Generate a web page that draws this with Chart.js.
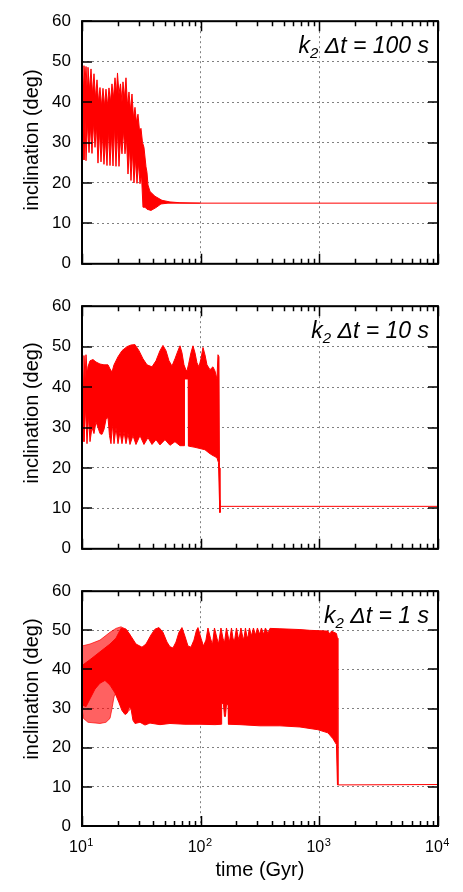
<!DOCTYPE html>
<html>
<head>
<meta charset="utf-8">
<script src="https://cdn.jsdelivr.net/npm/chart.js@4/dist/chart.umd.min.js"></script>
<style>
  body { margin: 0; background: #fff; width: 463px; height: 892px; position: relative; overflow: hidden; }
  canvas { position: absolute; left: 0; }
</style>
</head>
<body>
<canvas id="panel1" width="463" height="285" style="top:0px"></canvas>
<canvas id="panel2" width="463" height="285" style="top:285px"></canvas>
<canvas id="panel3" width="463" height="322" style="top:570px"></canvas>
<script>
// time in Gyr (log axis), inclination in deg
const xTicks = [10, 20, 30, 40, 50, 60, 70, 80, 90,
                100, 200, 300, 400, 500, 600, 700, 800, 900,
                1000, 2000, 3000, 4000, 5000, 6000, 7000, 8000, 9000, 10000];
const yTicks = [0, 10, 20, 30, 40, 50, 60];
const panelLabels = ['100 s', '10 s', '1 s'];

// k2 dt = 100 s : upper / lower extremes of the oscillation, then the settled value
const p1Upper = [[10.0,49.5],[10.2,44],[10.39,49],[10.6,45],[10.81,48.8],[11.02,44],[11.23,48.6],
  [11.57,43],[11.91,48.2],[12.26,42],[12.62,47],[12.99,41],[13.38,45.5],[13.77,40],[14.18,43.6],
  [14.6,39],[15.03,43.4],[15.47,39],[15.93,43.2],[16.4,39],[16.88,43.5],[17.38,40],[17.89,44.5],
  [18.42,41],[18.97,46],[19.53,42],[19.91,47.2],[20.5,42],[21.1,44.5],[21.73,40],[22.15,45],
  [22.8,41],[23.48,46],[24.17,39],[24.89,42.5],[25.62,38],[26.38,42],[27.16,36],[27.96,38.7],
  [28.78,35],[29.63,37],[30.51,33],[31.41,33.5],[32.34,30],[33.29,28.8],[34.61,24],[35.29,22.6],
  [35.97,19.5],[37.4,17.9],[41.21,16.7],[47.21,15.7],[55.13,15.3],[66.94,15.1],[98.65,15.0]];
const p1Lower = [[10.0,30],[10.2,38],[10.39,25.7],[10.6,36],[10.81,25.5],[11.13,35],[11.46,27.5],
  [11.79,34],[12.14,27.3],[12.5,35],[12.87,28.8],[13.25,34],[13.64,24.9],[14.04,33],[14.46,25.2],
  [14.88,32],[15.32,24.6],[15.78,31],[16.24,24.3],[16.72,33],[17.22,24.3],[17.72,32],[18.25,24.2],
  [18.79,34],[19.34,24.1],[19.91,33],[20.5,24.1],[21.1,31],[21.73,27.2],[22.37,33],[23.03,27.2],
  [23.71,31],[24.41,22.2],[25.13,29],[25.87,20.6],[26.63,28],[27.42,20],[28.23,26],[29.07,19.9],
  [29.92,25],[30.81,19.8],[31.72,22],[32.65,14],[33.94,14],[35.29,13.5],[38.13,13.2],[42.02,13.9],
  [46.3,14.8],[53.04,15.0],[66.94,15.0],[98.65,15.0]];
const p1Tail = [[98.65,15.0],[10000,15.0]];

// k2 dt = 10 s
const p2Upper = [[10.0,48],[10.2,41],[10.39,47.8],[10.6,42],[10.81,48],[11.02,44],[11.23,45],
  [11.68,46.5],[12.38,46.8],[13.12,46.2],[14.18,45.7],[15.32,45.5],[16.56,45.5],[17.22,44.5],
  [17.89,43.7],[18.61,45.5],[20.11,47.5],[21.73,49],[23.94,50],[25.87,50.4],[27.96,50.5],
  [30.22,49],[32.65,47],[35.29,45.5],[38.89,45],[42.02,46.5],[45.4,49],[48.13,50.3],[51.03,49],
  [54.07,46.5],[57.32,45.2],[60.74,47],[64.4,49],[66.94,50.2],[69.57,48.5],[72.32,45.5],
  [75.18,44.2],[76.65,44],[78.91,45.5],[82.84,48.5],[86.12,50.2],[89.53,48.5],[93.07,46],
  [96.75,45],[100.6,47],[104.6,49.8],[108.7,48],[113.0,45.5],[119.8,44.3],[126.9,45],
  [131.9,44],[137.2,42],[139.9,48],[142.6,47.5],[144.0,20],[145.4,9]];
const p2Lower = [[10.0,27],[10.2,36],[10.39,26.5],[10.7,35],[11.02,26],[11.34,33],[11.68,26.5],
  [12.14,30],[12.62,28.5],[13.12,31.4],[13.64,30],[14.18,28.5],[14.74,28.3],[15.32,29.5],
  [15.93,32],[16.56,32.5],[17.05,28],[17.55,26],[18.07,31],[18.61,26],[19.34,30],[20.11,26],
  [20.9,29],[21.73,26],[22.59,29],[23.48,26],[24.41,28.5],[25.37,25.8],[26.89,28],[28.5,25.8],
  [30.81,28],[33.29,25.8],[35.97,27.5],[38.89,25.8],[42.02,27],[45.4,25.7],[50.05,27],
  [55.13,25.6],[60.74,26.5],[66.94,25.5],[72.8,25.5],[73.03,42],[78.6,42],[78.91,25.4],
  [89.53,25.1],[98.65,24.8],[108.7,24.5],[117.5,23.7],[124.5,23.2],[131.9,22.8],[137.2,22.5],
  [141.3,21.3],[144.0,12],[145.4,9]];
const p2Tail = [[145.4,10.5],[10000,10.5]];

// k2 dt = 1 s : faint outer band at early times, dense core, settled value
const p3LightUpper = [[10.0,46],[11.68,46.5],[14.18,47.5],[17.22,49.5],[19.34,50.5],[21.31,50.9],
  [23.48,50.3],[25.87,48.5]];
const p3LightLower = [[10.0,30],[10.29,27.5],[11.23,26.5],[14.18,26.2],[15.93,26.5],[17.22,27.5],
  [17.89,30],[18.61,33],[19.34,34],[21.31,30.7],[23.48,28.7],[25.87,30]];
const p3Upper = [[10.0,41],[11.68,42.5],[14.18,44.5],[17.22,46.5],[19.34,48],[21.31,50.5],
  [23.48,50.3],[25.87,48.5],[28.5,46.5],[32.03,45.7],[34.61,46.5],[38.13,48.8],[41.21,50.3],
  [44.53,50.7],[48.13,49.5],[52.02,47],[55.13,45.8],[58.42,45.5],[61.93,47],[65.65,49.5],
  [69.57,50.7],[73.74,48.5],[78.16,46],[82.84,45.7],[87.81,47.5],[92.18,50],[94.9,50.7],
  [100.6,48],[105.6,46],[110.8,47.5],[115.2,50.6],[120.9,48],[125.7,46.3],[130.7,50.6],
  [137.2,48],[141.3,46.5],[148.3,50.6],[154.1,48],[158.7,46.8],[165.0,50.6],[171.5,48],
  [174.8,47],[181.8,50.6],[187.2,48],[192.7,47.3],[200.3,50.6],[206.2,48.5],[210.2,47.6],
  [218.5,50.6],[227.2,48],[231.6,48],[238.5,50.6],[245.5,48.3],[250.3,48.3],[257.7,50.6],
  [267.9,48.6],[278.5,50.6],[289.5,48.8],[300.9,50.6],[312.9,49],[325.3,50.6],[338.1,49],
  [351.5,50.6],[369.0,49.2],[383.6,50.5],[465.7,50.4],[686.5,50.2],[833.4,50],[1012,49.9],
  [1182,49.8],[1228,49],[1265,49.8],[1327,49.5],[1394,49.2],[1421,48],[1434,10.5]];
const p3Lower = [[10.0,31],[10.81,30.5],[11.68,32.5],[12.87,35],[14.18,36.5],[15.62,37.2],
  [17.22,36],[18.97,34],[20.5,31.5],[21.73,29.5],[23.03,28.5],[23.94,28.8],[24.89,30.5],
  [25.87,30],[26.89,27],[27.96,26.2],[30.81,26.5],[33.94,25.8],[37.4,26.3],[45.4,25.9],
  [55.13,26.2],[73.74,26],[98.65,26],[131.9,25.9],[149.1,26],[150.3,31.5],[155.7,31],
  [158.7,28],[161.8,28],[165.0,31],[170.5,31],[171.5,26],[214.4,25.9],[316.0,25.6],
  [465.7,25.6],[686.5,25.3],[973,24.6],[1182,23.8],[1302,22.3],[1394,20.8],[1421,10.5]];
const p3Tail = [[1421,10.5],[10000,10.6]];

const RED = 'rgb(255,0,0)';
const FONT = '"Liberation Sans", Arial, Helvetica, sans-serif';

function toXY(list) {
  return list.map(p => ({ x: p[0], y: p[1] }));
}

function isDecade(v) {
  const l = Math.log10(v);
  return Math.abs(l - Math.round(l)) < 1e-6;
}

function lineSet(list, color, fill, fillColor) {
  return {
    data: toXY(list),
    borderColor: color,
    borderWidth: 1,
    pointRadius: 0,
    tension: 0,
    fill: fill,
    backgroundColor: fillColor || color
  };
}

// frame, inward ticks on all four sides, the panel label and axis texts
const framePlugin = {
  id: 'frame',
  afterDraw(chart, args, opts) {
    const { ctx, chartArea: a, scales: { x, y } } = chart;
    ctx.save();
    ctx.strokeStyle = '#000';
    ctx.fillStyle = '#000';

    ctx.lineWidth = 1.5;
    ctx.beginPath();
    x.ticks.forEach(t => {
      const px = Math.round(x.getPixelForValue(t.value)) + 0.5;
      const len = isDecade(t.value) ? 10 : 5;
      ctx.moveTo(px, a.bottom); ctx.lineTo(px, a.bottom - len);
      ctx.moveTo(px, a.top); ctx.lineTo(px, a.top + len);
    });
    y.ticks.forEach(t => {
      const py = Math.round(y.getPixelForValue(t.value));
      ctx.moveTo(a.left, py); ctx.lineTo(a.left + 10, py);
      ctx.moveTo(a.right, py); ctx.lineTo(a.right - 10, py);
    });
    ctx.stroke();

    ctx.lineWidth = 2;
    ctx.strokeRect(a.left, a.top, a.right - a.left, a.bottom - a.top);

    // k2 dt label, right aligned in the top right corner
    const parts = [
      { t: 'k', f: 'italic 23px ' + FONT, dy: 0 },
      { t: '2', f: 'italic 15px ' + FONT, dy: 5 },
      { t: ' \u0394t = ' + opts.label, f: 'italic 23px ' + FONT, dy: 0 }
    ];
    let total = 0;
    parts.forEach(p => { ctx.font = p.f; p.w = ctx.measureText(p.t).width; total += p.w; });
    let cx = a.right - 9 - total;
    const base = a.top + 31.5;
    ctx.textAlign = 'left';
    ctx.textBaseline = 'alphabetic';
    parts.forEach(p => { ctx.font = p.f; ctx.fillText(p.t, cx, base + p.dy); cx += p.w; });

    // y axis title
    ctx.save();
    ctx.translate(32, opts.titleY);
    ctx.rotate(-Math.PI / 2);
    ctx.font = '20px ' + FONT;
    ctx.textAlign = 'center';
    ctx.textBaseline = 'middle';
    ctx.fillText('inclination (deg)', 0, 0);
    ctx.restore();

    // x tick labels as powers of ten
    if (opts.xLabels) {
      x.ticks.filter(t => isDecade(t.value)).forEach(t => {
        const px = x.getPixelForValue(t.value);
        const exp = String(Math.round(Math.log10(t.value)));
        ctx.font = '16px ' + FONT;
        const w1 = ctx.measureText('10').width;
        ctx.font = '11px ' + FONT;
        const w2 = ctx.measureText(exp).width;
        const sx = px - (w1 + w2) / 2 - 1;
        ctx.font = '16px ' + FONT;
        ctx.fillText('10', sx, a.bottom + 25.7);
        ctx.font = '11px ' + FONT;
        ctx.fillText(exp, sx + w1 + 0.5, a.bottom + 20);
      });
    }
    ctx.restore();
  }
};

function makePanel(id, datasets, cfg) {
  new Chart(document.getElementById(id), {
    type: 'line',
    data: { datasets: datasets },
    plugins: [framePlugin],
    options: {
      responsive: false,
      animation: false,
      devicePixelRatio: 1,
      layout: { padding: { top: cfg.padTop, right: 25, bottom: 0, left: 0 } },
      plugins: {
        legend: { display: false },
        tooltip: { enabled: false },
        frame: { label: cfg.label, titleY: cfg.titleY, xLabels: cfg.xLabels }
      },
      scales: {
        x: {
          type: 'logarithmic',
          min: 10,
          max: 10000,
          afterBuildTicks: s => { s.ticks = xTicks.map(v => ({ value: v })); },
          afterFit: s => { s.height = cfg.axisH; },
          ticks: { display: false },
          grid: {
            drawTicks: false,
            lineWidth: 1,
            color: c => (isDecade(c.tick.value) && c.tick.value > 10 && c.tick.value < 10000) ? '#808080' : 'rgba(0,0,0,0)'
          },
          border: { display: false, dash: [2, 3] },
          title: {
            display: cfg.xLabels,
            text: 'time (Gyr)',
            color: '#000',
            font: { family: FONT, size: 20 },
            padding: { top: 0, bottom: 10 }
          }
        },
        y: {
          min: 0,
          max: 60,
          afterBuildTicks: s => { s.ticks = yTicks.map(v => ({ value: v })); },
          afterFit: s => { s.width = 82; },
          ticks: { color: '#000', padding: 11, font: { family: FONT, size: 17 } },
          grid: {
            drawTicks: false,
            lineWidth: 1,
            color: c => (c.tick.value > 0 && c.tick.value < 60) ? '#808080' : 'rgba(0,0,0,0)'
          },
          border: { display: false, dash: [2, 3] }
        }
      }
    }
  });
}

makePanel('panel1', [
  lineSet(p1Upper, RED, false),
  lineSet(p1Lower, RED, '-1', RED),
  lineSet(p1Tail, RED, false)
], { padTop: 17, axisH: 12, label: panelLabels[0], titleY: 140, xLabels: false });

makePanel('panel2', [
  lineSet(p2Upper, RED, false),
  lineSet(p2Lower, RED, '-1', RED),
  lineSet(p2Tail, RED, false)
], { padTop: 13, axisH: 16, label: panelLabels[1], titleY: 128, xLabels: false });

makePanel('panel3', [
  lineSet(p3LightUpper, 'rgba(255,0,0,0.7)', false),
  lineSet(p3LightLower, 'rgba(255,0,0,0.7)', '-1', 'rgba(255,0,0,0.62)'),
  lineSet(p3Upper, RED, false),
  lineSet(p3Lower, RED, '-1', RED),
  lineSet(p3Tail, RED, false)
], { padTop: 9, axisH: 66, label: panelLabels[2], titleY: 119, xLabels: true });
</script>
</body>
</html>
